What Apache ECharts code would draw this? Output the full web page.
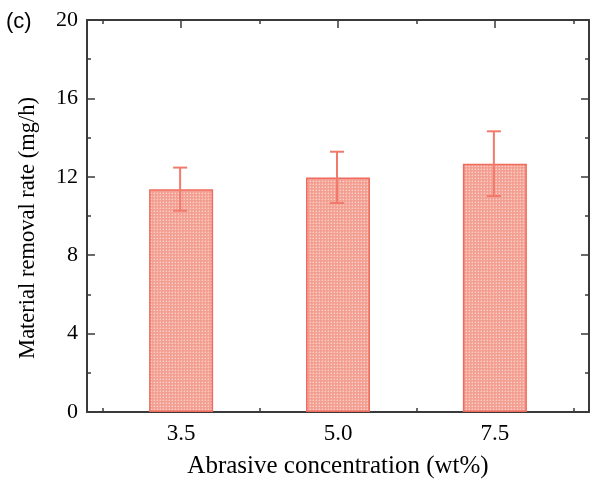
<!DOCTYPE html>
<html><head><meta charset="utf-8">
<script src="https://cdn.jsdelivr.net/npm/echarts@6/dist/echarts.min.js"></script>
<style>html,body{margin:0;padding:0;background:#fff}#c{width:590px;height:479px}</style>
</head><body><div id="c"></div>
<script>
const categories = ['3.5', '5.0', '7.5'];
const rates = [11.37, 11.97, 12.67];
const errors = [1.1, 1.31, 1.65];
const yTicks = [0, 4, 8, 12, 16, 20];

// patterned fill
const tile = document.createElement('canvas');
tile.width = 3; tile.height = 3;
const tc = tile.getContext('2d');
tc.fillStyle = '#f39f91'; tc.fillRect(0, 0, 3, 3);
tc.fillStyle = '#f9cfc7'; tc.fillRect(1, 1, 1, 1);
tc.fillStyle = '#f6b5aa'; tc.fillRect(0, 1, 1, 1); tc.fillRect(1, 0, 1, 1);

const chart = echarts.init(document.getElementById('c'), null, {renderer: 'canvas'});
const axisColor = '#3a3a3a';
const font = '"Liberation Serif", "Times New Roman", serif';
const majorX = categories.map((c, i) => i);
const minorX = [-0.5, 0.5, 1.5, 2.5];
const xBase = {type: 'value', min: -0.6, max: 2.6, splitLine: {show: false}};

chart.setOption({
  animation: false,
  graphic: [{type: 'text', left: 6, top: 11, style: {text: '(c)', font: '22px "Liberation Sans", Arial, sans-serif', fill: '#000'}}],
  grid: {left: 87, right: 1, top: 20, bottom: 67, containLabel: false, outerBoundsMode: 'none'},
  xAxis: [
    Object.assign({}, xBase, {position: 'bottom',
      name: 'Abrasive concentration (wt%)', nameLocation: 'middle', nameGap: 42,
      nameTextStyle: {fontFamily: font, fontSize: 25, color: '#000'},
      axisLine: {show: true, lineStyle: {color: axisColor, width: 2}},
      axisTick: {show: true, inside: true, length: 8, customValues: majorX, lineStyle: {color: axisColor, width: 1.5}},
      axisLabel: {show: true, customValues: majorX, margin: 10, fontFamily: font, fontSize: 23, color: '#000',
        formatter: v => categories[Math.round(v)]}}),
    Object.assign({}, xBase, {position: 'top',
      axisLine: {show: true, onZero: false, lineStyle: {color: axisColor, width: 2}},
      axisTick: {show: true, inside: true, length: 8, customValues: majorX, lineStyle: {color: axisColor, width: 1.5}},
      axisLabel: {show: false}}),
    Object.assign({}, xBase, {position: 'bottom',
      axisLine: {show: false},
      axisTick: {show: true, inside: true, length: 4, customValues: minorX, lineStyle: {color: axisColor, width: 1.5}},
      axisLabel: {show: false}}),
    Object.assign({}, xBase, {position: 'top',
      axisLine: {show: false},
      axisTick: {show: true, inside: true, length: 4, customValues: minorX, lineStyle: {color: axisColor, width: 1.5}},
      axisLabel: {show: false}})
  ],
  yAxis: [
    {type: 'value', min: 0, max: 20, interval: 4, position: 'left',
      name: 'Material removal rate (mg/h)', nameLocation: 'middle', nameGap: 47,
      nameTextStyle: {fontFamily: font, fontSize: 22.5, color: '#000', padding: [0, 24, 0, 0]},
      axisLine: {show: true, onZero: false, lineStyle: {color: axisColor, width: 2}},
      axisTick: {show: true, inside: true, length: 8, lineStyle: {color: axisColor, width: 1.5}},
      minorTick: {show: true, splitNumber: 2, length: 4, lineStyle: {color: axisColor, width: 1.5}},
      axisLabel: {margin: 9, fontFamily: font, fontSize: 22, color: '#000',
        customValues: yTicks},
      splitLine: {show: false}},
    {type: 'value', min: 0, max: 20, interval: 4, position: 'right',
      axisLine: {show: true, onZero: false, lineStyle: {color: axisColor, width: 2}},
      axisTick: {show: true, inside: true, length: 8, lineStyle: {color: axisColor, width: 1.5}},
      minorTick: {show: true, splitNumber: 2, length: 4, lineStyle: {color: axisColor, width: 1.5}},
      axisLabel: {show: false}, splitLine: {show: false}}
  ],
  series: [
    {type: 'bar', xAxisIndex: 0, yAxisIndex: 0, barWidth: 64,
      data: rates.map((v, i) => [i, v]),
      itemStyle: {color: {image: tile, repeat: 'repeat'}, borderColor: '#ef6b5e', borderWidth: 1.5}},
    {type: 'custom', xAxisIndex: 0, yAxisIndex: 0, z: 5,
      data: rates.map((v, i) => [i, v - errors[i], v + errors[i]]),
      renderItem: function (params, api) {
        const lo = api.coord([api.value(0), api.value(1)]);
        const hi = api.coord([api.value(0), api.value(2)]);
        const x = lo[0] - 1, hw = 7;
        const st = {stroke: '#f07a6c', lineWidth: 2};
        return {type: 'group', children: [
          {type: 'line', shape: {x1: x, y1: lo[1], x2: x, y2: hi[1]}, style: st},
          {type: 'line', shape: {x1: x - hw, y1: lo[1], x2: x + hw, y2: lo[1]}, style: st},
          {type: 'line', shape: {x1: x - hw, y1: hi[1], x2: x + hw, y2: hi[1]}, style: st}
        ]};
      }}
  ]
});
</script></body></html>
